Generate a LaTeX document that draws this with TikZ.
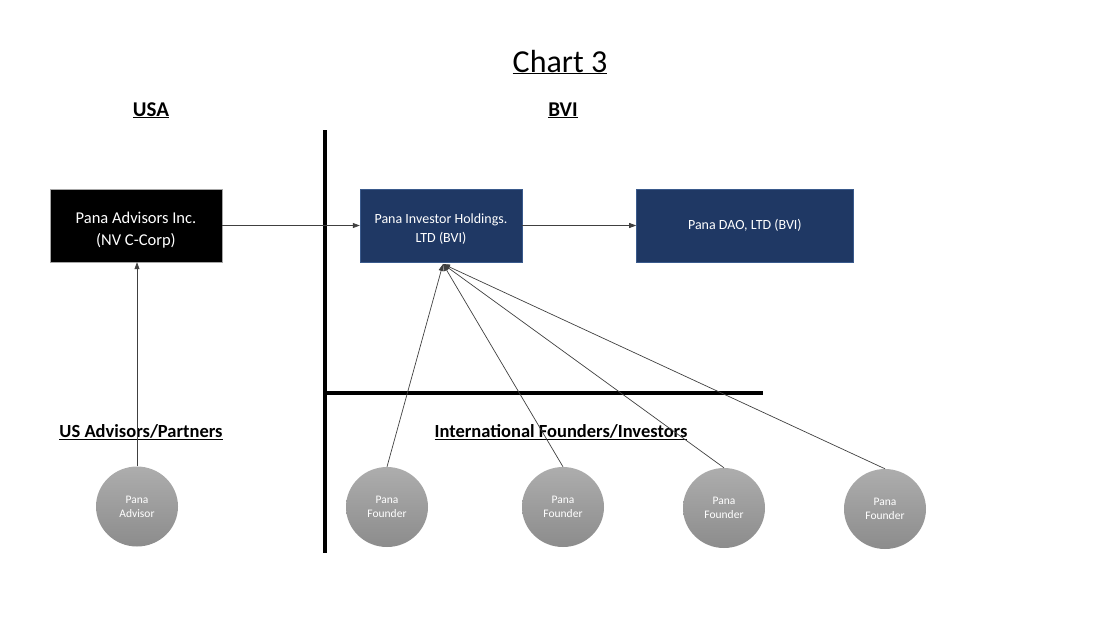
\documentclass[tikz,border=0pt]{standalone}
\usepackage{fontspec}
\setmainfont{Carlito}
\usetikzlibrary{positioning, arrows.meta, shapes.geometric}
\definecolor{navy}{HTML}{1F3864}
\definecolor{navyedge}{HTML}{3A5A8C}
\definecolor{circtop}{HTML}{ADADAD}
\definecolor{circbot}{HTML}{8C8C8C}
\definecolor{linegray}{HTML}{404040}

\begin{document}
\begin{tikzpicture}[x=1pt, y=-1pt, >={Triangle[length=7pt, width=5pt]},
    entity/.style={minimum height=73pt, inner sep=0pt, align=center, text=white},
    person/.style={ellipse, minimum width=82pt, minimum height=80pt, inner sep=0pt, align=center,
        text=white, top color=circtop, bottom color=circbot, font=\fontsize{11.5}{14}\selectfont},
    heading/.style={anchor=base, font=\fontsize{21}{25}\selectfont\bfseries},
    subheading/.style={anchor=base, font=\fontsize{18.5}{22}\selectfont\bfseries},
    link/.style={->, draw=linegray, line width=0.7pt},
    divider/.style={line width=4.5pt}]
    \useasboundingbox (0,0) rectangle (1120,630);

    % titles
    \node[anchor=base, font=\fontsize{32}{38}\selectfont] (title) at (560,72) {\underline{Chart 3}};
    \node[heading] (usa) at (151,116) {\underline{USA}};
    \node[heading] (bvi) at (563,116) {\underline{BVI}};
    \node[subheading] (us_grp) at (141,437) {\underline{US Advisors/Partners}};
    \node[subheading] (intl_grp) at (561,437) {\underline{International Founders/Investors}};

    % jurisdiction lines
    \draw[divider] (325,130) -- (325,553);
    \draw[divider] (325,393) -- (763,393);

    % entities
    \node[entity, fill=black, draw=gray!70, minimum width=172pt, font=\fontsize{16.5}{22}\selectfont]
        (inc) at (136,225.5) {\rule{0pt}{20pt}Pana Advisors Inc.\\(NV C-Corp)};
    \node[entity, fill=navy, draw=navyedge, minimum width=162pt, font=\fontsize{14}{19}\selectfont]
        (hold) at (441,225.5) {\rule{0pt}{16pt}Pana Investor Holdings.\\LTD (BVI)};
    \node[entity, fill=navy, draw=navyedge, minimum width=217pt, font=\fontsize{14}{19}\selectfont]
        (dao) [right=114pt of hold] {Pana DAO, LTD (BVI)};
    \coordinate (hub) at (443,264);

    % people
    \node[person] (adv) at (137,506.5) {Pana\\Advisor};
    \node[person] (f_1) at (387,507) {Pana\\Founder};
    \node[person] (f_2) at (563,507) {Pana\\Founder};
    \node[person] (f_3) at (724,508) {Pana\\Founder};
    \node[person] (f_4) at (885,509) {Pana\\Founder};

    \draw[link] (inc) -- (hold);
    \draw[link] (hold) -- (dao);
    \draw[link] (adv.north) -- (adv.north |- inc.south);
    \foreach \f in {f_1, f_2, f_3, f_4}
        \draw[link] (\f.north) -- (hub);

\end{tikzpicture}
\end{document}
